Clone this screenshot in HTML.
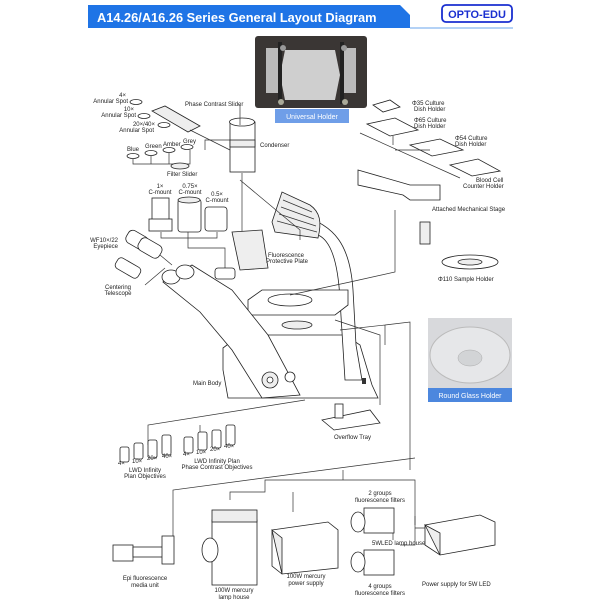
<!DOCTYPE html>
<html><head><meta charset="utf-8"><style>
html,body{margin:0;padding:0;background:#fff}
svg{display:block}
text{font-family:"Liberation Sans",sans-serif;font-size:6px;fill:#222}
.l{stroke:#333;stroke-width:0.7;fill:none}
.s{stroke:#222;stroke-width:0.8;fill:#fff}
.g{stroke:#222;stroke-width:0.8;fill:#eee}
</style></head><body>
<svg width="600" height="600" viewBox="0 0 600 600" xmlns="http://www.w3.org/2000/svg">
<!-- header -->
<polygon points="88,5 400,5 410,15 410,28 88,28" fill="#1f74e6"/>
<line x1="410" y1="28" x2="513" y2="28" stroke="#6aa6ee" stroke-width="1"/>
<text x="97" y="22" style="font-size:12.8px;font-weight:bold;fill:#fff">A14.26/A16.26 Series General Layout Diagram</text>
<rect x="442" y="5" width="70" height="17" rx="4" fill="#fff" stroke="#1a2fd0" stroke-width="1.8"/>
<text x="477" y="18" text-anchor="middle" style="font-size:11px;font-weight:bold;fill:#1a2fd0">OPTO-EDU</text>
<!-- universal holder photo -->
<rect x="255" y="36" width="112" height="72" rx="3" fill="#3a3634"/>
<rect x="266" y="48" width="12" height="45" fill="#bbb"/>
<rect x="344" y="48" width="12" height="45" fill="#bbb"/>
<path d="M285,50 L335,50 L340,75 L335,100 L285,100 L280,75 Z" fill="#cfcfcf"/>
<rect x="278" y="42" width="4" height="62" fill="#222"/><rect x="340" y="42" width="4" height="62" fill="#222"/>
<circle cx="283" cy="48" r="3" fill="#999"/><circle cx="344" cy="48" r="3" fill="#999"/>
<circle cx="281" cy="102" r="3" fill="#aa9"/><circle cx="345" cy="102" r="3" fill="#aa9"/>
<rect x="275" y="109" width="74" height="14" fill="#6f9ee8"/>
<text x="312" y="119" text-anchor="middle" style="font-size:7px;fill:#fff">Universal Holder</text>
<!-- round glass holder -->
<rect x="428" y="318" width="84" height="70" fill="#d8d9dc"/>
<ellipse cx="470" cy="355" rx="40" ry="28" fill="#e6e7e9" stroke="#bbb"/>
<ellipse cx="470" cy="358" rx="12" ry="8" fill="#d2d4d6" stroke="#aaa" stroke-width="0.5"/>
<rect x="428" y="388" width="84" height="14" fill="#4c87de"/>
<text x="470" y="398" text-anchor="middle" style="font-size:7px;fill:#fff">Round Glass Holder</text>

<!-- phase contrast slider & annular spots -->
<text x="126" y="97" text-anchor="end">4×</text><text x="128" y="103" text-anchor="end">Annular Spot</text>
<ellipse cx="136" cy="102" rx="6" ry="2.5" class="s"/>
<text x="134" y="111" text-anchor="end">10×</text><text x="136" y="117" text-anchor="end">Annular Spot</text>
<ellipse cx="144" cy="116" rx="6" ry="2.5" class="s"/>
<text x="155" y="126" text-anchor="end">20×/40×</text><text x="154" y="132" text-anchor="end">Annular Spot</text>
<ellipse cx="164" cy="125" rx="6" ry="2.5" class="s"/>
<polygon points="152,111 165,106 200,126 188,132" class="g"/>
<text x="185" y="106">Phase Contrast Slider</text>
<line class="l" x1="190" y1="130" x2="230" y2="150"/>
<!-- filters -->
<text x="127" y="151">Blue</text><text x="145" y="148">Green</text><text x="163" y="146">Amber</text><text x="183" y="143">Grey</text>
<ellipse cx="133" cy="156" rx="6" ry="2.5" class="s"/><ellipse cx="151" cy="153" rx="6" ry="2.5" class="s"/>
<ellipse cx="169" cy="150" rx="6" ry="2.5" class="s"/><ellipse cx="187" cy="147" rx="6" ry="2.5" class="s"/>
<path class="l" d="M133,159 V164 H190 V150 M151,156 V164 M169,153 V164"/>
<ellipse cx="180" cy="166" rx="9" ry="3" class="g"/>
<text x="167" y="176">Filter Slider</text>
<path class="l" d="M205,150 V140 H230"/>
<!-- condenser -->
<rect x="230" y="122" width="25" height="50" class="s"/>
<ellipse cx="242" cy="122" rx="12.5" ry="4" class="s"/>
<rect x="230" y="140" width="25" height="7" class="g"/>
<text x="260" y="147">Condenser</text>
<line class="l" x1="242" y1="173" x2="242" y2="250"/>
<!-- c-mounts -->
<text x="160" y="188" text-anchor="middle">1×</text><text x="160" y="194" text-anchor="middle">C-mount</text>
<text x="190" y="188" text-anchor="middle">0.75×</text><text x="190" y="194" text-anchor="middle">C-mount</text>
<text x="217" y="196" text-anchor="middle">0.5×</text><text x="217" y="202" text-anchor="middle">C-mount</text>
<rect x="152" y="198" width="17" height="22" class="s"/><rect x="149" y="219" width="23" height="12" class="s"/>
<rect x="178" y="199" width="23" height="33" rx="3" class="s"/>
<ellipse cx="189" cy="200" rx="11" ry="3" class="g"/>
<rect x="205" y="207" width="22" height="24" rx="3" class="s"/>
<path class="l" d="M161,232 V238 H217 V232 M188,232 V248 H225 V268"/>
<!-- eyepieces -->
<text x="118" y="242" text-anchor="end">WF10×/22</text><text x="118" y="248" text-anchor="end">Eyepiece</text>
<rect x="126" y="233" width="22" height="14" rx="5" transform="rotate(30 137 240)" class="s"/>
<rect x="138" y="241" width="24" height="14" rx="5" transform="rotate(30 150 248)" class="s"/>
<rect x="115" y="262" width="26" height="12" rx="4" transform="rotate(30 128 268)" class="s"/>
<line class="l" x1="160" y1="255" x2="172" y2="265"/><line class="l" x1="145" y1="285" x2="165" y2="268"/>
<text x="118" y="289" text-anchor="middle">Centering</text><text x="118" y="295" text-anchor="middle">Telescope</text>

<!-- microscope -->
<!-- base -->
<path class="s" d="M223,348 L240,335 L345,335 L360,345 L372,385 L378,398 L228,398 L223,370 Z"/>
<!-- arm -->
<path class="s" d="M300,215 C335,225 350,245 353,290 L356,345 L362,380 L345,380 L340,300 C338,260 330,240 318,235 Z"/>
<!-- lamp housing -->
<path class="g" d="M272,222 L282,192 L310,205 C320,212 322,222 318,238 L275,232 Z"/>
<path class="l" d="M283,200 L312,212 M281,207 L314,219 M279,214 L316,226 M277,221 L317,232"/>
<!-- stage -->
<path class="s" d="M248,300 L262,290 L348,290 L348,305 L335,315 L248,315 Z"/>
<ellipse cx="290" cy="300" rx="22" ry="6" class="s"/>
<ellipse cx="297" cy="325" rx="15" ry="4" class="g"/>
<!-- head diagonal -->
<path class="s" d="M163,282 L192,265 L232,290 L268,335 L300,395 L262,398 L232,350 L200,312 Z"/>
<ellipse cx="171" cy="277" rx="9" ry="7" class="s"/><ellipse cx="185" cy="272" rx="9" ry="7" class="s"/>
<rect x="215" y="268" width="20" height="11" rx="3" class="s"/>
<circle cx="270" cy="380" r="8" class="g"/><circle cx="270" cy="380" r="3" class="s"/>
<circle cx="290" cy="377" r="5" class="s"/>
<rect x="362" y="378" width="4" height="6" fill="#333"/>
<path class="g" d="M232,232 L262,230 L268,268 L240,270 Z"/>
<text x="268" y="257">Fluorescence</text><text x="266" y="263">Protective Plate</text>
<text x="193" y="385">Main Body</text>
<!-- right connectors -->
<path class="l" d="M240,105 V125 M240,180 L300,230 L300,240"/>
<path class="l" d="M290,295 L350,282 L395,272 V210"/>
<path class="l" d="M340,330 L385,325 V345 M385,325 L410,322 V470"/>
<path class="l" d="M335,320 L380,335 V405"/>
<!-- overflow tray -->
<polygon points="322,420 370,410 380,423 334,430" class="s"/>
<rect x="335" y="404" width="8" height="14" class="s"/>
<text x="334" y="439">Overflow Tray</text>
<!-- stage accessories -->
<polygon points="373,105 390,100 400,107 383,112" class="s"/>
<text x="412" y="105">Φ35 Culture</text><text x="414" y="111">Dish Holder</text>
<polygon points="367,124 395,118 418,130 390,136" class="s"/>
<text x="414" y="122">Φ65 Culture</text><text x="414" y="128">Dish Holder</text>
<polygon points="410,145 440,139 463,150 432,156" class="s"/>
<text x="455" y="140">Φ54 Culture</text><text x="455" y="146">Dish Holder</text>
<polygon points="450,165 478,159 500,171 472,176" class="s"/>
<text x="476" y="182">Blood Cell</text><text x="463" y="188">Counter Holder</text>
<path class="l" d="M360,133 L460,178 M395,150 L430,150 M393,136 V145"/>
<path class="s" d="M358,170 L410,185 L440,185 L440,200 L410,200 L403,195 L358,185 Z"/>
<rect x="420" y="222" width="10" height="22" class="g"/>
<text x="432" y="211">Attached Mechanical Stage</text>
<ellipse cx="470" cy="262" rx="28" ry="7" class="s"/>
<ellipse cx="470" cy="262" rx="12" ry="3" class="g"/>
<text x="438" y="281">Φ110 Sample Holder</text>

<!-- objectives -->
<path class="l" d="M305,400 L148,425 V445 M200,425 V432"/>
<g class="s">
<rect x="120" y="447" width="9" height="15" rx="2"/><rect x="134" y="443" width="9" height="16" rx="2"/>
<rect x="148" y="440" width="9" height="18" rx="2"/><rect x="162" y="435" width="9" height="20" rx="2"/>
<rect x="184" y="437" width="9" height="16" rx="2"/><rect x="198" y="432" width="9" height="18" rx="2"/>
<rect x="212" y="430" width="9" height="18" rx="2"/><rect x="226" y="425" width="9" height="20" rx="2"/>
</g>
<text x="118" y="465">4×</text><text x="132" y="463">10×</text><text x="147" y="460">20×</text><text x="162" y="458">40×</text>
<text x="183" y="456">4×</text><text x="196" y="454">10×</text><text x="210" y="451">20×</text><text x="224" y="448">40×</text>
<text x="145" y="472" text-anchor="middle">LWD Infinity</text><text x="145" y="478" text-anchor="middle">Plan Objectives</text>
<text x="217" y="463" text-anchor="middle">LWD Infinity Plan</text><text x="217" y="469" text-anchor="middle">Phase Contrast Objectives</text>

<!-- fluorescence -->
<path class="l" d="M415,458 L173,490 V540 M343,470 V480 H265 V492 H230 V500 M293,492 V512 M343,480 H415 V525 M393,525 V540"/>
<path class="l" d="M415,516 V545 H400 M415,528 H440"/>
<rect x="113" y="545" width="20" height="16" class="s"/>
<rect x="133" y="547" width="30" height="10" class="s"/>
<rect x="162" y="536" width="12" height="28" class="s"/>
<text x="145" y="580" text-anchor="middle">Epi fluorescence</text><text x="145" y="587" text-anchor="middle">media unit</text>
<rect x="212" y="520" width="45" height="65" class="s"/>
<rect x="212" y="510" width="45" height="12" class="g"/>
<ellipse cx="210" cy="550" rx="8" ry="12" class="s"/>
<text x="234" y="592" text-anchor="middle">100W mercury</text><text x="234" y="599" text-anchor="middle">lamp house</text>
<polygon points="272,530 328,522 338,530 338,568 282,574 272,566" class="s"/>
<polygon points="272,530 282,538 282,574" class="g"/>
<text x="306" y="578" text-anchor="middle">100W mercury</text><text x="306" y="585" text-anchor="middle">power supply</text>
<text x="380" y="495" text-anchor="middle">2 groups</text><text x="380" y="502" text-anchor="middle">fluorescence filters</text>
<rect x="364" y="508" width="30" height="25" class="s"/>
<ellipse cx="358" cy="522" rx="7" ry="10" class="s"/>
<text x="372" y="545">5WLED lamp house</text>
<rect x="364" y="550" width="30" height="25" class="s"/>
<ellipse cx="358" cy="562" rx="7" ry="10" class="s"/>
<text x="380" y="588" text-anchor="middle">4 groups</text><text x="380" y="595" text-anchor="middle">fluorescence filters</text>
<polygon points="425,525 480,515 495,522 495,545 440,555 425,545" class="s"/>
<polygon points="425,525 440,533 440,555" class="g"/>
<text x="422" y="586">Power supply for 5W LED</text>
</svg>
</body></html>
